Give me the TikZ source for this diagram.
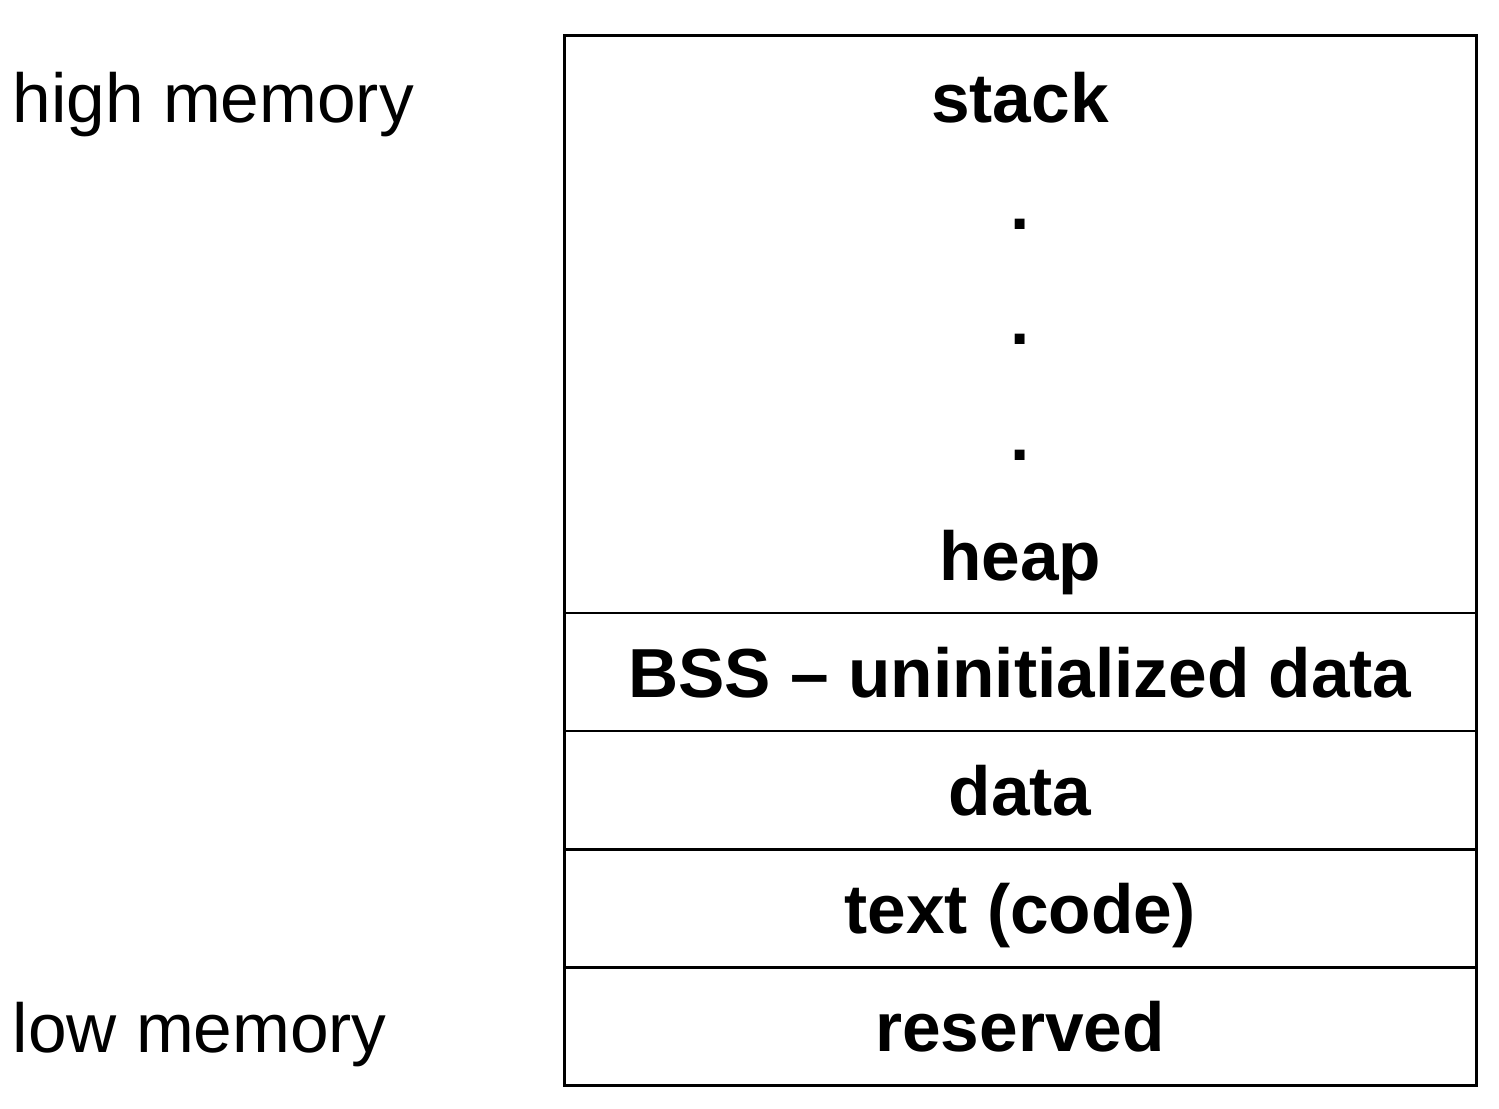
\documentclass[tikz,border=0pt]{standalone}
\usepackage{fontspec}
\setmainfont{Liberation Sans}
\usetikzlibrary{positioning}

\tikzset{
    seg/.style={draw, line width=0.85pt, minimum width=9.12cm, minimum height=1.18cm, inner sep=0pt, outer sep=0pt, text height=0.5cm, text depth=0pt, font=\fontsize{19.75}{23}\selectfont\bfseries},
    lbl/.style={inner sep=0pt, text height=0.5cm, text depth=0pt, font=\fontsize{19.75}{23}\selectfont\bfseries},
    side/.style={anchor=west, inner sep=0pt, text height=0.5cm, text depth=0pt, font=\fontsize{19.75}{23}\selectfont}
}

\begin{document}
\begin{tikzpicture}
    \useasboundingbox (0, 0) rectangle (14.99, 11.08); % page

    % Segments
    \node[seg, minimum height=5.77cm] (free) at (10.20, 7.835) {};
    \node[seg, below=0pt of free] (bss) {BSS -- uninitialized data};
    \node[seg, below=0pt of bss] (data) {data};
    \node[seg, below=0pt of data] (text) {text (code)};
    \node[seg, below=0pt of text] (reserved) {reserved};

    % Stack and heap
    \node[lbl] (stack) at (10.20, 10.10) {stack};
    \node[lbl] (dotA) at (10.20, 9.03) {.};
    \node[lbl] (dotB) at (10.20, 7.88) {.};
    \node[lbl] (dotC) at (10.20, 6.73) {.};
    \node[lbl] (heap) at (10.20, 5.53) {heap};

    % Side labels
    \node[side] (high) at (0.12, 10.10) {high memory};
    \node[side] (low) at (0.12, 0.81) {low memory};
\end{tikzpicture}
\end{document}
